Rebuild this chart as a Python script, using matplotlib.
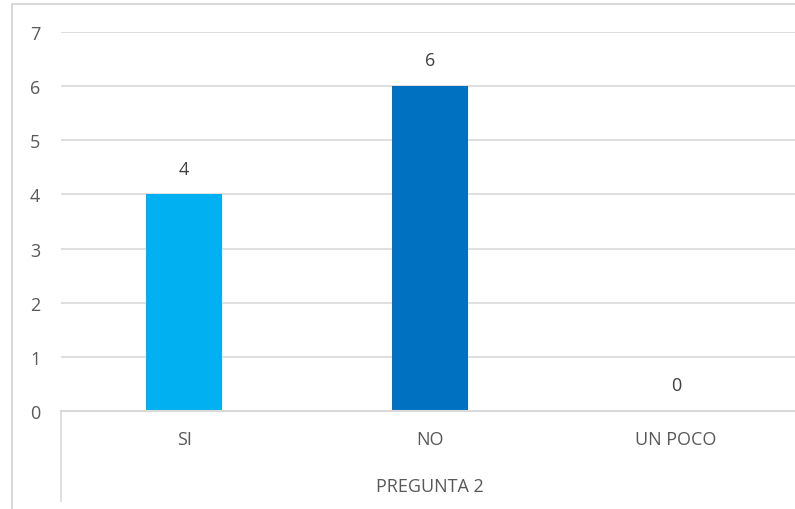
import matplotlib.pyplot as plt
from matplotlib.lines import Line2D

categorias = ['SI', 'NO', 'UN POCO']
valores = [4, 6, 0]
colores = ['#00B0F0', '#0070C0', '#0070C0']
grupo = 'PREGUNTA 2'
yticks = [0, 1, 2, 3, 4, 5, 6, 7]

W, H = 795, 510
fig = plt.figure(figsize=(W / 100, H / 100), dpi=100)
plt.rcParams['font.family'] = ['Open Sans', 'DejaVu Sans']
fs = 13

left, right, top, bottom = 61, 799, 33, 412
ax = fig.add_axes([left / W, 1 - bottom / H, (right - left) / W, (bottom - top) / H])

x = list(range(len(categorias)))
ax.bar(x, valores, width=0.31, color=colores, zorder=3)
for xi, v in zip(x, valores):
    ax.annotate(str(v), (xi, v), xytext=(0, 18.5), textcoords='offset points',
                ha='center', va='center', fontsize=fs, color='#404040')

ax.set_xlim(-0.5, len(categorias) - 0.5)
ax.set_ylim(0, 7)
ax.set_yticks(yticks)
ax.set_yticklabels([str(t) for t in yticks], fontsize=fs, color='#595959')
ax.tick_params(axis='y', length=0, pad=15)
ax.set_xticks([])
ax.grid(axis='y', color='#D9D9D9', linewidth=1.2, zorder=0)
for s in ax.spines.values():
    s.set_visible(False)

# category labels
for xi, c in zip(x, categorias):
    fig.text((left + (xi + 0.5) * (right - left) / 3) / W, 1 - 440 / H, c,
             ha='center', va='center', fontsize=fs, color='#595959')
fig.text((left + right) / 2 / W, 1 - 487 / H, grupo,
         ha='center', va='center', fontsize=fs, color='#595959')

# axis line and group divider
fig.add_artist(Line2D([left / W, 1], [1 - bottom / H, 1 - bottom / H],
                      transform=fig.transFigure, color='#D9D9D9', lw=1.5))
fig.add_artist(Line2D([left / W, left / W], [1 - bottom / H, 1 - 502 / H],
                      transform=fig.transFigure, color='#D9D9D9', lw=1.2))

# outer chart frame
fig.add_artist(Line2D([12 / W, 12 / W, 1], [0, 1 - 5 / H, 1 - 5 / H],
                      transform=fig.transFigure, color='#D9D9D9', lw=1.5))

fig.savefig('out.png', dpi=100)
